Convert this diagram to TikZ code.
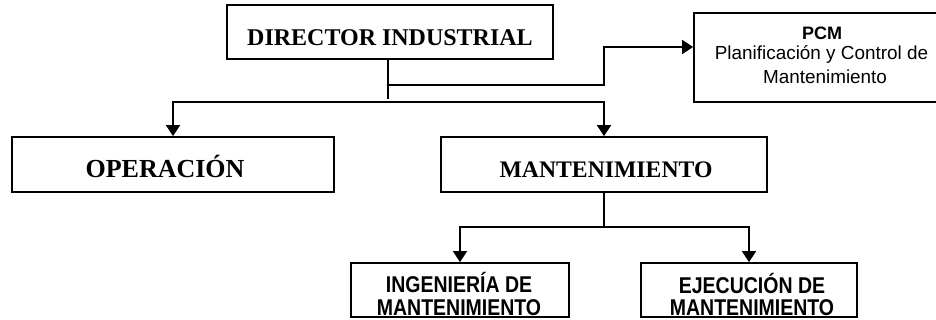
\documentclass[tikz,border=0pt]{standalone}
\usepackage{fontspec}
\setmainfont{Liberation Serif}
\setsansfont{Liberation Sans}
\usetikzlibrary{arrows.meta}
\begin{document}
\begin{tikzpicture}[x=1pt,y=-1pt,
  box/.style={draw,line width=1.7pt,inner sep=0pt,minimum width=#1},
  conn/.style={line width=1.5pt},
  arr/.style={conn,-{Triangle[length=11pt,width=14pt]}},
  serifb/.style={anchor=base,inner sep=0pt,font=\fontsize{#1}{#1}\selectfont\bfseries},
  sansb/.style={anchor=base,inner sep=0pt,font=\fontsize{#1}{#1}\selectfont\sffamily\bfseries},
  sansr/.style={anchor=base,inner sep=0pt,font=\fontsize{#1}{#1}\selectfont\sffamily}]
\useasboundingbox (0,0) rectangle (936,320);
\clip (0,0) rectangle (936,320);
% boxes
\node[box=326pt,minimum height=54pt] (dir)  at (390,32) {};
\node[box=258pt,minimum height=89pt] (pcm)  at (823,57.5) {};
\node[box=322pt,minimum height=55pt] (op)   at (173,164.5) {};
\node[box=326pt,minimum height=55pt] (mant) at (604,164.5) {};
\node[box=218pt,minimum height=54pt] (ing)  at (460,290) {};
\node[box=216pt,minimum height=54pt] (eje)  at (749,290) {};
% texts
\node[serifb=24] (tdir) at (390,45.5) {DIRECTOR INDUSTRIAL};
\node[serifb=26] (top) at (165,178) {OPERACIÓN};
\node[serifb=23.7] (tmant) at (606,178) {MANTENIMIENTO};
\node[sansb=18] (tpcm1) at (822,40) {PCM};
\node[sansr=18.9] (tpcm2) at (821.5,60) {Planificación y Control de};
\node[sansr=18.9] (tpcm3) at (825,84) {Mantenimiento};
\node[sansb=19.5] (ting1) at (459,292.5) {\scalebox{1}[1.17]{INGENIERÍA DE}};
\node[sansb=19.5] (ting2) at (459,315) {\scalebox{1}[1.17]{MANTENIMIENTO}};
\node[sansb=19.5] (teje1) at (752,293) {\scalebox{1}[1.17]{EJECUCIÓN DE}};
\node[sansb=19.5] (teje2) at (752,315) {\scalebox{1}[1.17]{MANTENIMIENTO}};
% connectors
\coordinate (j) at (388,102);
\coordinate (k) at (388,85);
\coordinate (m) at (604,227);
\draw[conn] (dir.south -| j) -- ([yshift=3pt]j);
\draw[arr] (j) -| (op.north);
\draw[arr] (j) -| (mant.north);
\draw[arr] (k) -| ([yshift=10.5pt]pcm.west -| mant.north) -- ([yshift=10.5pt]pcm.west);
\draw[conn] (mant.south) -- (m);
\draw[arr] (m) -| (ing.north);
\draw[arr] (m) -| (eje.north);
\end{tikzpicture}
\end{document}
